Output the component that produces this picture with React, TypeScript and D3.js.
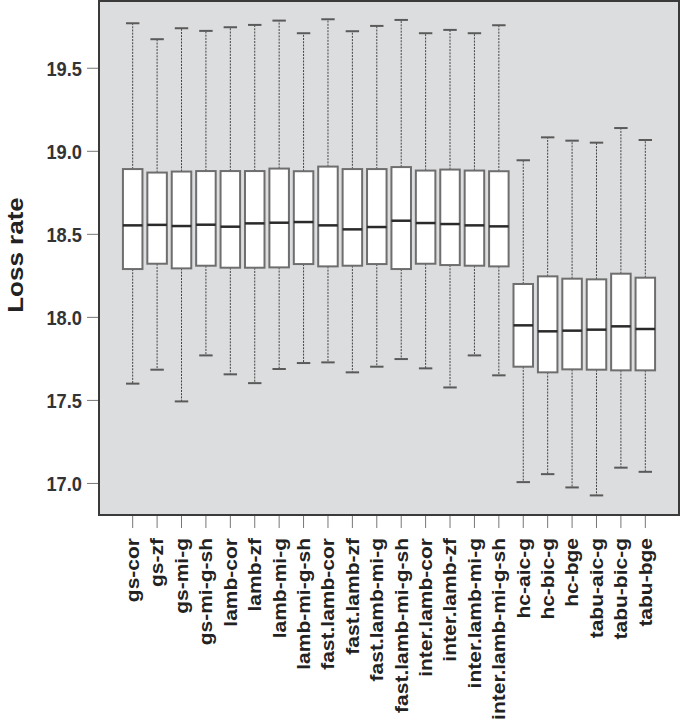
import { useRef, useEffect } from "react";
import * as d3 from "d3";

const categories = [
  "gs-cor", "gs-zf", "gs-mi-g", "gs-mi-g-sh", "lamb-cor", "lamb-zf", "lamb-mi-g",
  "lamb-mi-g-sh", "fast.lamb-cor", "fast.lamb-zf", "fast.lamb-mi-g", "fast.lamb-mi-g-sh",
  "inter.lamb-cor", "inter.lamb-zf", "inter.lamb-mi-g", "inter.lamb-mi-g-sh",
  "hc-aic-g", "hc-bic-g", "hc-bge", "tabu-aic-g", "tabu-bic-g", "tabu-bge",
];
const whiskerHigh = [
  19.771, 19.675, 19.741, 19.725, 19.747, 19.761, 19.787, 19.711, 19.795, 19.723, 19.755,
  19.791, 19.711, 19.731, 19.711, 19.759, 18.946, 19.084, 19.064, 19.052, 19.14, 19.068,
];
const q3 = [
  18.893, 18.872, 18.878, 18.881, 18.881, 18.881, 18.896, 18.88, 18.908, 18.893, 18.893,
  18.905, 18.884, 18.89, 18.884, 18.88, 18.201, 18.247, 18.233, 18.229, 18.263, 18.239,
];
const medians = [
  18.554, 18.557, 18.55, 18.558, 18.546, 18.566, 18.57, 18.574, 18.554, 18.53, 18.544,
  18.582, 18.568, 18.562, 18.554, 18.548, 17.952, 17.916, 17.92, 17.926, 17.946, 17.93,
];
const q1 = [
  18.291, 18.323, 18.295, 18.311, 18.299, 18.299, 18.301, 18.321, 18.307, 18.311, 18.321,
  18.291, 18.323, 18.315, 18.311, 18.307, 17.703, 17.669, 17.687, 17.685, 17.681, 17.681,
];
const whiskerLow = [
  17.601, 17.685, 17.494, 17.771, 17.657, 17.604, 17.689, 17.725, 17.729, 17.669, 17.703,
  17.749, 17.693, 17.578, 17.771, 17.651, 17.008, 17.056, 16.976, 16.928, 17.095, 17.07,
];
const yTicks = [17.0, 17.5, 18.0, 18.5, 19.0, 19.5];

const W = 681;
const H = 724;
const FONT = "'Liberation Sans', Arial, Helvetica, sans-serif";

export default function App() {
  const svgRef = useRef<SVGSVGElement>(null);

  useEffect(() => {
    const svg = d3.select(svgRef.current);
    svg.selectAll("*").remove();

    const plot = { left: 99, right: 679, top: 1, bottom: 515 };
    const sx = 0.87; // text in the figure is squeezed horizontally

    const x = d3.scaleLinear().domain([-0.38, categories.length + 1.38]).range([plot.left, plot.right]);
    const y = d3.scaleLinear().domain([16.81, 19.905]).range([plot.bottom, plot.top]);
    const unit = x(1) - x(0);
    const boxW = 0.8 * unit;
    const capW = 0.55 * unit;

    svg.append("rect")
      .attr("x", plot.left)
      .attr("y", plot.top)
      .attr("width", plot.right - plot.left)
      .attr("height", plot.bottom - plot.top)
      .attr("fill", "#dcdddf");

    const data = categories.map((c, i) => ({
      c,
      pos: i + 1,
      lo: whiskerLow[i],
      q1: q1[i],
      med: medians[i],
      q3: q3[i],
      hi: whiskerHigh[i],
    }));

    const g = svg.append("g");
    data.forEach(d => {
      const cx = x(d.pos);
      // whiskers
      [[d.q3, d.hi], [d.q1, d.lo]].forEach(([a, b]) => {
        g.append("line")
          .attr("x1", cx).attr("x2", cx)
          .attr("y1", y(a)).attr("y2", y(b))
          .attr("stroke", "#444")
          .attr("stroke-width", 1)
          .attr("stroke-dasharray", "2,1.2");
        g.append("line")
          .attr("x1", cx - capW / 2).attr("x2", cx + capW / 2)
          .attr("y1", y(b)).attr("y2", y(b))
          .attr("stroke", "#5a5a5a")
          .attr("stroke-width", 2);
      });
      // box
      g.append("rect")
        .attr("x", cx - boxW / 2)
        .attr("y", y(d.q3))
        .attr("width", boxW)
        .attr("height", y(d.q1) - y(d.q3))
        .attr("fill", "#fff")
        .attr("stroke", "#6e6e6e")
        .attr("stroke-width", 2);
      // median
      g.append("line")
        .attr("x1", cx - boxW / 2).attr("x2", cx + boxW / 2)
        .attr("y1", y(d.med)).attr("y2", y(d.med))
        .attr("stroke", "#2a2a2a")
        .attr("stroke-width", 2.5);
    });

    // frame
    svg.append("rect")
      .attr("x", plot.left)
      .attr("y", plot.top)
      .attr("width", plot.right - plot.left)
      .attr("height", plot.bottom - plot.top)
      .attr("fill", "none")
      .attr("stroke", "#3a3a3a")
      .attr("stroke-width", 2);

    // y axis
    const ya = svg.append("g");
    yTicks.forEach(t => {
      ya.append("line")
        .attr("x1", plot.left - 12).attr("x2", plot.left - 1)
        .attr("y1", y(t)).attr("y2", y(t))
        .attr("stroke", "#777")
        .attr("stroke-width", 1);
      ya.append("text")
        .attr("transform", `translate(82,${y(t)}) scale(${sx},1)`)
        .attr("dy", "0.36em")
        .attr("text-anchor", "end")
        .attr("font-family", FONT)
        .attr("font-weight", 700)
        .attr("font-size", 21)
        .attr("fill", "#333")
        .text(d3.format(".1f")(t));
    });

    svg.append("text")
      .attr("transform", `translate(23,255) scale(${sx},1) rotate(-90)`)
      .attr("text-anchor", "middle")
      .attr("font-family", FONT)
      .attr("font-weight", 700)
      .attr("font-size", 26)
      .attr("fill", "#222")
      .text("Loss rate");

    // x axis
    const xa = svg.append("g");
    data.forEach(d => {
      const cx = x(d.pos);
      xa.append("line")
        .attr("x1", cx).attr("x2", cx)
        .attr("y1", plot.bottom + 1).attr("y2", plot.bottom + 13)
        .attr("stroke", "#777")
        .attr("stroke-width", 1);
      xa.append("text")
        .attr("transform", `translate(${cx},538) scale(${sx},1) rotate(-90)`)
        .attr("dy", "0.35em")
        .attr("text-anchor", "end")
        .attr("font-family", FONT)
        .attr("font-weight", 700)
        .attr("font-size", 21)
        .attr("fill", "#222")
        .text(d.c);
    });
  }, []);

  return (
    <svg
      ref={svgRef}
      width={W}
      height={H}
      style={{ position: "absolute", left: 0, top: 0, background: "#fff" }}
    />
  );
}
